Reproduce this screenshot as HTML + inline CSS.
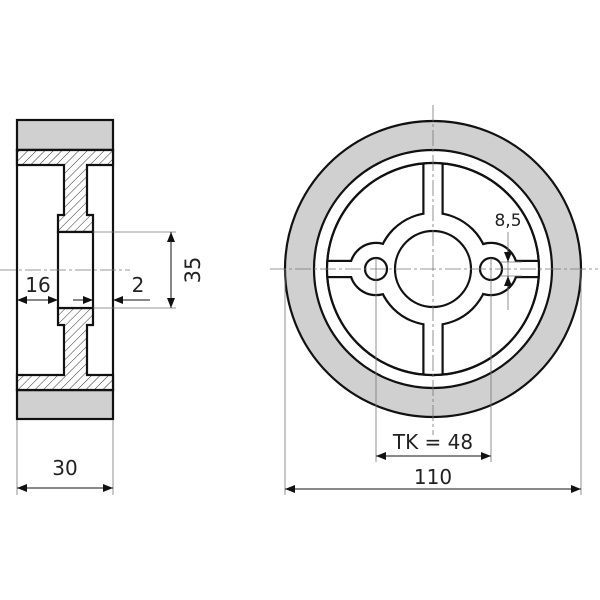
<!DOCTYPE html>
<html><head><meta charset="utf-8"><style>html,body{margin:0;padding:0;background:#fff}svg{display:block}text{font-family:"DejaVu Sans","Liberation Sans",sans-serif;fill:#222}</style></head><body>
<svg width="600" height="600" viewBox="0 0 600 600" xmlns="http://www.w3.org/2000/svg">
<defs>
<pattern id="h" width="6" height="6" patternUnits="userSpaceOnUse" patternTransform="rotate(45)"><rect width="6" height="6" fill="#fff"/><line x1="0" y1="0" x2="0" y2="6" stroke="#333" stroke-width="1"/></pattern>
<marker id="a" markerWidth="10" markerHeight="8" refX="10" refY="4" orient="auto-start-reverse" markerUnits="userSpaceOnUse"><path d="M0,0 L10,4 L0,8 Z" fill="#111"/></marker>
<clipPath id="c"><circle cx="433" cy="269" r="106"/></clipPath>
</defs>
<!-- LEFT VIEW -->
<g stroke="#111" stroke-width="2.2">
<rect x="17" y="120" width="96" height="30" fill="#d0d0d0"/>
<rect x="17" y="390" width="96" height="29" fill="#d0d0d0"/>
<rect x="17" y="150" width="96" height="240" fill="#fff"/>
<path d="M17,150 H113 V165 H87 V215 H93 V232 H58 V215 H64 V165 H17 Z" fill="url(#h)"/>
<path d="M17,390 H113 V375 H87 V325 H93 V308 H58 V325 H64 V375 H17 Z" fill="url(#h)"/>
<rect x="58" y="232" width="35" height="76" fill="#fff"/>
</g>
<g stroke="#777" stroke-width="0.8" fill="none">
<line x1="0" y1="270" x2="130" y2="270" stroke-dasharray="16,3,3,3"/>
<line x1="93" y1="232" x2="176" y2="232"/><line x1="93" y1="308" x2="176" y2="308"/>
<line x1="17" y1="420" x2="17" y2="495"/><line x1="113" y1="420" x2="113" y2="495"/>
</g>
<g stroke="#111" stroke-width="1" fill="none">
<line x1="171" y1="232" x2="171" y2="308" marker-start="url(#a)" marker-end="url(#a)"/>
<line x1="17" y1="300" x2="58" y2="300" marker-start="url(#a)" marker-end="url(#a)"/>
<line x1="73" y1="300" x2="93" y2="300" marker-end="url(#a)"/>
<line x1="150" y1="300" x2="113" y2="300" marker-end="url(#a)"/>
<line x1="17" y1="488" x2="113" y2="488" marker-start="url(#a)" marker-end="url(#a)"/>
</g>
<text x="38" y="292" font-size="20" text-anchor="middle">16</text>
<text x="138" y="292" font-size="20" text-anchor="middle">2</text>
<text transform="translate(200,270) rotate(-90)" font-size="21" text-anchor="middle">35</text>
<text x="65" y="475" font-size="20" text-anchor="middle">30</text>
<!-- RIGHT VIEW -->
<g stroke="#111" stroke-width="2.2">
<circle cx="433" cy="269" r="148" fill="#d0d0d0"/>
<circle cx="433" cy="269" r="119" fill="#fff"/>
<circle cx="433" cy="269" r="106" fill="#fff"/>
<g clip-path="url(#c)">
<g fill="#fff" stroke-width="4.4">
<rect x="424.5" y="150" width="17" height="240"/>
<rect x="314" y="262" width="240" height="14"/>
<circle cx="433" cy="269" r="55"/>
<circle cx="376" cy="269" r="25"/>
<circle cx="491" cy="269" r="25"/>
</g>
<g fill="#fff" stroke="none">
<rect x="424.5" y="150" width="17" height="240"/>
<rect x="314" y="262" width="240" height="14"/>
<circle cx="433" cy="269" r="55"/>
<circle cx="376" cy="269" r="25"/>
<circle cx="491" cy="269" r="25"/>
</g>
</g>
<circle cx="433" cy="269" r="106" fill="none"/>
<circle cx="433" cy="269" r="38" fill="#fff"/>
<circle cx="376" cy="269" r="11" fill="#fff"/>
<circle cx="491" cy="269" r="11" fill="#fff"/>
</g>
<g stroke="#777" stroke-width="0.8" fill="none">
<line x1="270" y1="269" x2="598" y2="269" stroke-dasharray="16,3,3,3"/>
<line x1="433" y1="105" x2="433" y2="435" stroke-dasharray="16,3,3,3"/>
<line x1="376" y1="258" x2="376" y2="462"/><line x1="491" y1="258" x2="491" y2="462"/>
<line x1="285" y1="269" x2="285" y2="495"/><line x1="581" y1="269" x2="581" y2="495"/>
<line x1="508" y1="232" x2="508" y2="310"/>
<line x1="500" y1="262" x2="522" y2="262"/><line x1="500" y1="276" x2="522" y2="276"/>
</g>
<g stroke="#111" stroke-width="1" fill="none">
<line x1="376" y1="456" x2="491" y2="456" marker-start="url(#a)" marker-end="url(#a)"/>
<line x1="285" y1="489" x2="581" y2="489" marker-start="url(#a)" marker-end="url(#a)"/>
<line x1="508" y1="250" x2="508" y2="262" marker-end="url(#a)"/>
<line x1="508" y1="288" x2="508" y2="276" marker-end="url(#a)"/>
</g>
<text x="508" y="226" font-size="17" text-anchor="middle">8,5</text>
<text x="433" y="449" font-size="20" text-anchor="middle">TK = 48</text>
<text x="433" y="484" font-size="20" text-anchor="middle">110</text>
</svg>
</body></html>
